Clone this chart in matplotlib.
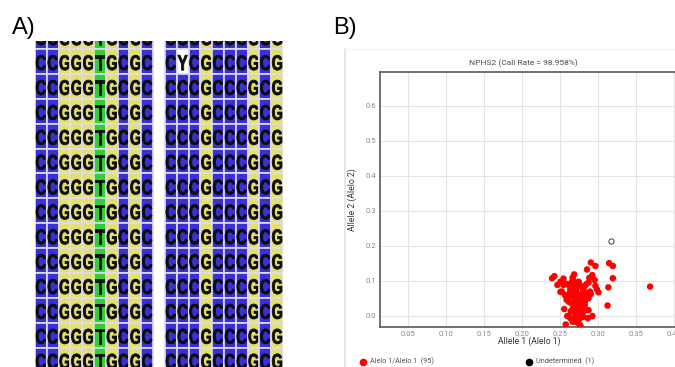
import matplotlib
matplotlib.use("Agg")
import matplotlib.pyplot as plt
import matplotlib.transforms as mtransforms
from matplotlib.textpath import TextPath
from matplotlib.font_manager import FontProperties
from matplotlib.patches import PathPatch, Rectangle
from matplotlib.lines import Line2D

# ---- data ----
left_rows = ["CCGGGTGCGC"] * 14
right_rows = ["CCCGCCCGCG", "CYCGCCCGCG"] + ["CCCGCCCGCG"] * 12

allele1 = [0.369, 0.315, 0.320, 0.320, 0.314, 0.313, 0.291, 0.297, 0.286, 0.269,
           0.293, 0.289, 0.243, 0.240, 0.255, 0.267, 0.275, 0.251, 0.247, 0.255,
           0.264, 0.271, 0.283, 0.296, 0.297, 0.299, 0.301, 0.251, 0.257, 0.263,
           0.272, 0.278, 0.286, 0.291, 0.268, 0.281, 0.262, 0.270, 0.283, 0.275,
           0.256, 0.265, 0.276, 0.288, 0.272, 0.260, 0.270, 0.281, 0.293, 0.267,
           0.275, 0.258, 0.277, 0.272, 0.259, 0.266, 0.275, 0.288, 0.253, 0.264,
           0.272, 0.281, 0.290, 0.261, 0.279, 0.288, 0.266, 0.277, 0.283, 0.275,
           0.286, 0.265, 0.272, 0.264, 0.277, 0.287, 0.270, 0.277, 0.268, 0.270,
           0.274, 0.279, 0.284, 0.268, 0.279, 0.271, 0.262, 0.276, 0.269, 0.285,
           0.259, 0.274, 0.280, 0.266, 0.273]
allele2 = [0.083, 0.150, 0.142, 0.107, 0.081, 0.029, 0.152, 0.142, 0.132, 0.118,
           0.116, 0.108, 0.113, 0.107, 0.106, 0.109, 0.097, 0.097, 0.088, 0.088,
           0.083, 0.088, 0.085, 0.102, 0.085, 0.075, 0.067, 0.068, 0.059, 0.064,
           0.068, 0.059, 0.059, 0.062, 0.054, 0.050, 0.040, 0.040, 0.040, 0.031,
           0.019, 0.014, 0.018, 0.016, 0.007, -0.001, -0.005, -0.003, -0.001, -0.017,
           -0.022, -0.025, -0.029, -0.012, 0.091, 0.097, 0.093, 0.095, 0.069, 0.075,
           0.078, 0.073, 0.069, 0.054, 0.054, 0.050, 0.035, 0.035, 0.031, 0.016,
           0.016, 0.011, 0.002, -0.007, -0.007, -0.007, -0.017, -0.027, 0.100, 0.047,
           0.060, 0.083, 0.066, 0.026, 0.024, 0.022, 0.088, 0.050, 0.080, 0.090,
           0.046, -0.002, 0.008, 0.064, 0.044]
undet_x = [0.317]
undet_y = [0.213]

xticks = [0.05, 0.10, 0.15, 0.20, 0.25, 0.30, 0.35, 0.40]
yticks = [0.0, 0.1, 0.2, 0.3, 0.4, 0.5, 0.6]

base_colors = {"C": "#3a30d6", "G": "#e4e06a", "T": "#30d030", "Y": "#ffffff"}

W, H = 675, 367
fig = plt.figure(figsize=(6.75, 3.67), dpi=100)


def fx(px):
    return px / W


def fy(py):
    return 1 - py / H


# ---- panel A: alignment ----
axA = fig.add_axes([fx(35), 0, 248 / W, (367 - 41) / H])
axA.set_xlim(0, 21)
axA.set_ylim(13.78, 0.678)
axA.axis("off")

glyph_font = FontProperties(family="Liberation Sans", weight="bold")


def draw_letter(ax, ch, cx, cy, w, h):
    tp = TextPath((0, 0), ch, size=1, prop=glyph_font)
    bb = tp.get_extents()
    tr = (mtransforms.Affine2D()
          .translate(-bb.x0 - bb.width / 2, -bb.y0 - bb.height / 2)
          .scale(w / bb.width, -h / bb.height)
          .translate(cx, cy)) + ax.transData
    ax.add_patch(PathPatch(tp, facecolor="#0d0d0d", edgecolor="#0d0d0d", lw=0.6,
                           transform=tr))


for offset, rows in [(0, left_rows), (11, right_rows)]:
    for i, seq in enumerate(rows):
        for j, ch in enumerate(seq):
            axA.add_patch(Rectangle((offset + j, i), 1, 1, facecolor=base_colors[ch],
                                    edgecolor="#dcdcf2", lw=1.2))
            draw_letter(axA, ch, offset + j + 0.5, i + 0.55, 0.82, 0.6)

fig.text(fx(24), fy(28), "A)", fontsize=17, family="Liberation Sans",
         ha="center", va="center")
fig.text(fx(345), fy(28), "B)", fontsize=17, family="Liberation Sans",
         ha="center", va="center")

# ---- panel B: scatter ----
fig.add_artist(Line2D([fx(345), fx(345)], [fy(49), fy(367)], color="#e2e2e2", lw=1.2))
fig.add_artist(Line2D([fx(345), fx(675)], [fy(49), fy(49)], color="#f2f2f2", lw=1.0))

axB = fig.add_axes([fx(380), fy(326.7), (678 - 380) / W, (326.7 - 72.3) / H])
axB.set_xlim(0.01355, 0.4057)
axB.set_ylim(-0.0314, 0.6954)
axB.set_xticks(xticks)
axB.set_xticklabels(["%.2f" % v for v in xticks])
axB.set_yticks(yticks)
axB.set_yticklabels(["%.1f" % v for v in yticks])
axB.tick_params(length=0, labelsize=5.5, labelcolor="#888888", pad=3)
for lab in axB.get_xticklabels() + axB.get_yticklabels():
    lab.set_family("Roboto")
axB.grid(True, color="#e4e4e4", lw=0.8)
axB.set_axisbelow(True)
for side in ["left", "bottom", "top", "right"]:
    axB.spines[side].set_color("#666666")
    axB.spines[side].set_linewidth(1.3)

axB.scatter(allele1, allele2, s=22, color="#ff0000", edgecolors="none", zorder=3)
axB.scatter(undet_x, undet_y, s=14, facecolors="white", edgecolors="#555555",
            linewidths=0.8, zorder=3)

fig.text(fx(523), fy(62.7), "NPHS2 (Call Rate = 98.958%)", fontsize=6, color="#4a4a4a",
         family="Roboto", ha="center", va="center")
fig.text(fx(529), fy(341.7), "Allele 1 (Alelo 1)", fontsize=6.2, color="#333333",
         family="Roboto", ha="center", va="center")
fig.text(fx(352.7), fy(200), "Allele 2 (Alelo 2)", fontsize=6.2, color="#333333",
         family="Roboto", ha="center", va="center", rotation=90)

# legend
fig.add_artist(Line2D([fx(363.3)], [fy(361.7)], marker="o", markersize=4.5,
                      color="#ff0000", lw=0))
fig.text(fx(369.5), fy(361.7), "Alelo 1/Alelo 1  (95)", fontsize=5.2, color="#555555",
         family="Roboto", ha="left", va="center")
fig.add_artist(Line2D([fx(529)], [fy(361.7)], marker="o", markersize=4.5,
                      color="#000000", lw=0))
fig.text(fx(535.5), fy(361.7), "Undetermined  (1)", fontsize=5.2, color="#555555",
         family="Roboto", ha="left", va="center")

fig.savefig("out.png", dpi=100)
